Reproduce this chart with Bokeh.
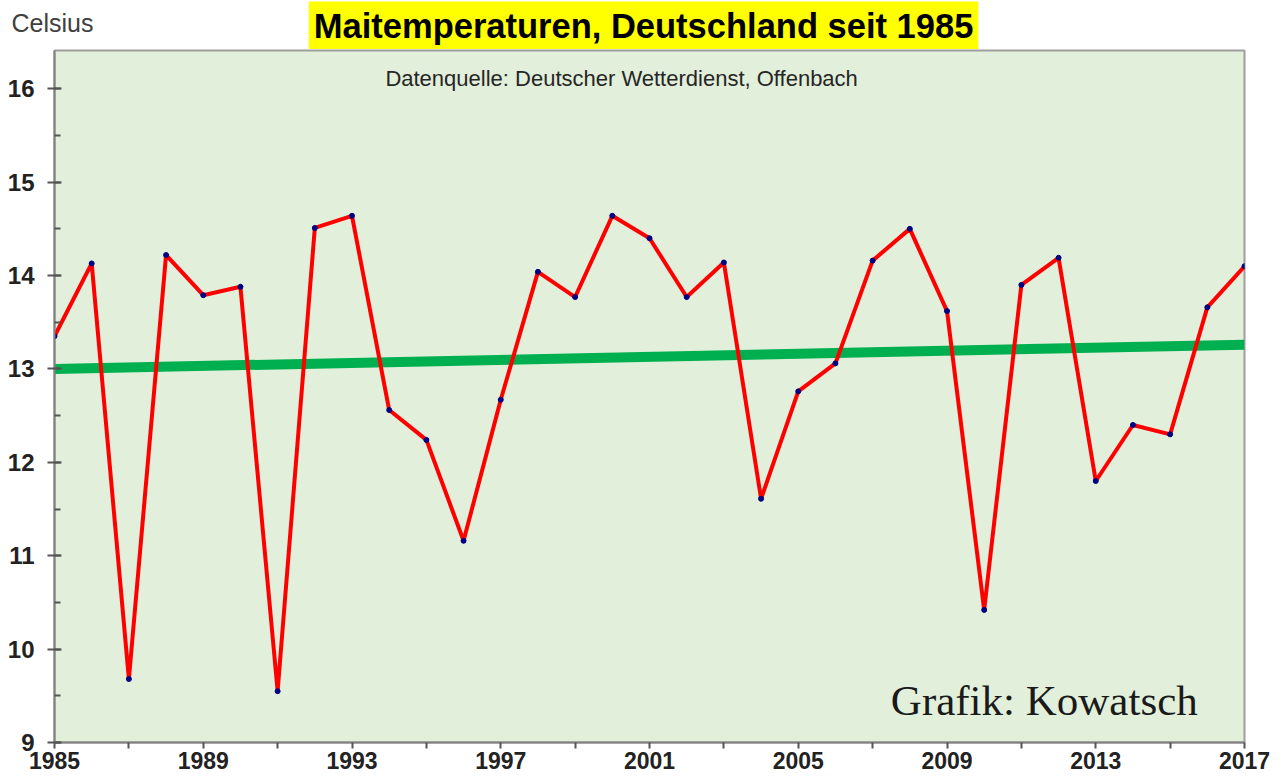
from bokeh.plotting import figure
from bokeh.models import Range1d, FixedTicker, SingleIntervalTicker, Label, ColumnDataSource
from bokeh.layouts import column
from bokeh.embed import file_html
from bokeh.resources import INLINE

years = list(range(1985, 2018))
temps = [13.35, 14.13, 9.68, 14.22, 13.79, 13.88, 9.55, 14.51, 14.64, 12.56,
         12.24, 11.16, 12.67, 14.04, 13.77, 14.64, 14.40, 13.77, 14.14, 11.61,
         12.76, 13.06, 14.16, 14.50, 13.62, 10.42, 13.90, 14.19, 11.80, 12.40,
         12.30, 13.66, 14.10]
trend_years = [1985, 2017]
trend_vals = [13.00, 13.26]
x_ticks = list(range(1985, 2018, 2))
x_labels = {t: (str(t) if (t - 1985) % 4 == 0 else "") for t in x_ticks}

title_text = "Maitemperaturen, Deutschland seit 1985"
source_text = "Datenquelle: Deutscher Wetterdienst, Offenbach"
credit_text = "Grafik: Kowatsch"
unit_text = "Celsius"

W = 1275
HEADER_H = 49
xr = Range1d(1985, 2017)

# ---- header strip (title + unit) ----
h = figure(width=W, height=HEADER_H, output_backend="svg", toolbar_location=None,
           x_range=xr, y_range=Range1d(0, HEADER_H),
           x_axis_location=None, y_axis_location="left",
           min_border_left=54, min_border_right=31, min_border_top=0, min_border_bottom=0)
h.outline_line_color = None
h.background_fill_color = "white"
h.border_fill_color = "white"
h.grid.visible = False
h.yaxis.ticker = FixedTicker(ticks=[HEADER_H - 22])
h.yaxis.major_label_overrides = {HEADER_H - 22: unit_text}
h.yaxis.axis_line_color = None
h.yaxis.major_tick_line_color = None
h.yaxis.minor_tick_line_color = None
h.yaxis.major_tick_in = 0
h.yaxis.major_tick_out = 0
h.yaxis.minor_tick_in = 0
h.yaxis.minor_tick_out = 0
h.yaxis.major_label_standoff = -39
h.yaxis.major_label_text_font = "Liberation Sans"
h.yaxis.major_label_text_font_style = "normal"
h.yaxis.major_label_text_font_size = "25px"
h.yaxis.major_label_text_color = "#404040"
h.add_layout(Label(x=2000.84, y=HEADER_H - 25, text=title_text, text_align="center", text_baseline="middle",
                   text_font="Liberation Sans", text_font_style="bold", text_font_size="34.5px",
                   text_color="black", background_fill_color="#ffff00", padding=5))

# ---- main chart ----
p = figure(width=W, height=725, output_backend="svg", toolbar_location=None,
           x_range=xr, y_range=Range1d(9, 16.41),
           min_border_left=54, min_border_right=31, min_border_top=1, min_border_bottom=32)
p.background_fill_color = "#e2efda"
p.border_fill_color = "white"
p.outline_line_color = "#9e9e9e"
p.outline_line_width = 2
p.xgrid.visible = False
p.ygrid.visible = False

src = ColumnDataSource(dict(x=years, y=temps))
p.line(trend_years, trend_vals, line_color="#00b050", line_width=10)
p.line("x", "y", source=src, line_color="#ff0000", line_width=4)
p.scatter("x", "y", source=src, size=5, fill_color="#000080", line_color="#000080")

p.xaxis.ticker = FixedTicker(ticks=x_ticks)
p.xaxis.major_label_overrides = x_labels
p.xaxis.major_label_text_font = "Liberation Sans"
p.xaxis.major_label_text_font_style = "bold"
p.xaxis.major_label_text_font_size = "23px"
p.xaxis.major_label_text_color = "#222222"
p.xaxis.major_tick_in = 0
p.xaxis.major_tick_out = 6
p.xaxis.minor_tick_line_color = None
p.xaxis.axis_line_color = "#808080"
p.xaxis.axis_line_width = 2
p.xaxis.major_tick_line_color = "#555555"
p.xaxis.major_tick_line_width = 2
p.xaxis.major_label_standoff = 3

p.yaxis.ticker = SingleIntervalTicker(interval=1, num_minor_ticks=2)
p.yaxis.major_label_text_font = "Liberation Sans"
p.yaxis.major_label_text_font_style = "bold"
p.yaxis.major_label_text_font_size = "24px"
p.yaxis.major_label_text_color = "#222222"
p.yaxis.major_tick_in = 7
p.yaxis.major_tick_out = 7
p.yaxis.minor_tick_in = 6
p.yaxis.minor_tick_out = 0
p.yaxis.axis_line_color = "#808080"
p.yaxis.axis_line_width = 2
p.yaxis.major_tick_line_color = "#555555"
p.yaxis.major_tick_line_width = 2
p.yaxis.minor_tick_line_color = "#555555"
p.yaxis.minor_tick_line_width = 2
p.yaxis.major_label_standoff = 13

p.add_layout(Label(x=2000.25, y=16.107, text=source_text, text_align="center", text_baseline="middle",
                   text_font="Liberation Sans", text_font_size="22px", text_color="#262626"))
p.add_layout(Label(x=2007.49, y=9.449, text=credit_text, text_align="left", text_baseline="alphabetic",
                   text_font="Liberation Serif", text_font_size="43px", text_color="#1a1a1a"))

layout = column(h, p, spacing=0)
open("out.html", "w").write(file_html(layout, INLINE))
